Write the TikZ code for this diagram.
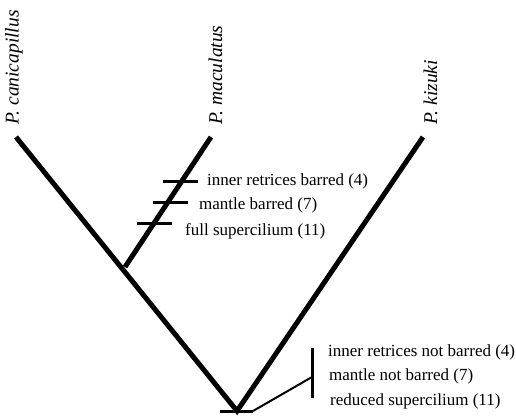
\documentclass[tikz,border=0pt]{standalone}
\usepackage{fontspec}
\setmainfont{Liberation Serif}
\begin{document}
\begin{tikzpicture}[x=1pt,y=-1pt,
  branch/.style={line width=5pt},
  tick/.style={line width=3pt},
  thin/.style={line width=2pt},
  taxon/.style={rotate=90,anchor=base west,inner sep=0pt,font=\fontsize{19.5}{22}\selectfont\itshape},
  trait/.style={anchor=base west,inner sep=0pt,font=\fontsize{17}{20}\selectfont}]
\useasboundingbox (0,0) rectangle (516,417);
% tips and junctions
\coordinate (root) at (237,411);
\coordinate (cani) at (16,137);
\coordinate (macu) at (211,137);
\coordinate (kizu) at (423,137);
\coordinate (junc) at (125,267);
% branches
\draw[branch] (cani) -- (root) -- (kizu);
\draw[branch] (junc) -- (macu);
% ticks on maculatus branch
\coordinate (t1a) at (163,181); \coordinate (t1b) at (198,181);
\coordinate (t2a) at (153,202); \coordinate (t2b) at (188,202);
\coordinate (t3a) at (137,223); \coordinate (t3b) at (172,223);
\draw[tick] (t1a) -- (t1b);
\draw[tick] (t2a) -- (t2b);
\draw[tick] (t3a) -- (t3b);
% root bar and connector
\coordinate (ra) at (220,411); \coordinate (rb) at (253,411);
\coordinate (va) at (312,348); \coordinate (vb) at (312,398);
\coordinate (vm) at (312,377);
\draw[tick] (ra) -- (rb);
\draw[thin] (rb) -- (vm);
\draw[tick] (va) -- (vb);
% taxon labels
\node[taxon] (lcani) at (18.5,125) {P. canicapillus};
\node[taxon] (lmacu) at (222,125) {P. maculatus};
\node[taxon] (lkizu) at (437,125) {P. kizuki};
% trait labels
\node[trait] (m1) at (207,185) {inner retrices barred (4)};
\node[trait] (m2) at (199,209) {mantle barred (7)};
\node[trait] (m3) at (185,235) {full supercilium (11)};
\node[trait] (r1) at (328,356) {inner retrices not barred (4)};
\node[trait] (r2) at (329,380) {mantle not barred (7)};
\node[trait] (r3) at (330,405) {reduced supercilium (11)};
\end{tikzpicture}
\end{document}
